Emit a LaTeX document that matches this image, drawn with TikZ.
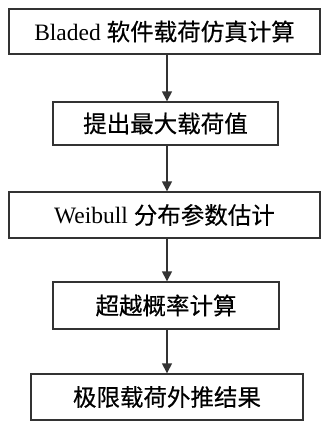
\documentclass[tikz,border=0pt]{standalone}
\usepackage{fontspec}
\setmainfont{Liberation Serif}
\newfontfamily\cjk[FakeBold=0.4]{Noto Sans CJK SC}
\usetikzlibrary{arrows.meta}
\definecolor{lc}{HTML}{333333}
\tikzset{
  box/.style={draw=lc, line width=1.4pt, inner sep=0pt, font=\fontsize{23.5}{25}\selectfont, text=black},
  arr/.style={draw=lc, line width=1.4pt, -{Triangle[width=10pt,length=10pt]}}
}
\begin{document}
\begin{tikzpicture}[x=1pt,y=-1pt]
\useasboundingbox (0,0) rectangle (321,421);
\fill[white] (0,0) rectangle (321,421);
\node[box, minimum width=311pt, minimum height=45pt] (b1) at (164.5,31.5) {Bladed {\cjk 软件载荷仿真计算}};
\node[box, minimum width=225pt, minimum height=43pt] (b2) at (165.5,123.5) {\cjk 提出最大载荷值};
\node[box, minimum width=311pt, minimum height=46pt] (b3) at (164.5,215) {Weibull {\cjk 分布参数估计}};
\node[box, minimum width=226pt, minimum height=47pt] (b4) at (166,305.5) {\cjk 超越概率计算};
\node[box, minimum width=272pt, minimum height=46pt] (b5) at (167,397) {\cjk 极限载荷外推结果};
\coordinate (ax) at (167,0);
\draw[arr] (b1.south -| ax) -- (b2.north -| ax);
\draw[arr] (b2.south -| ax) -- (b3.north -| ax);
\draw[arr] (b3.south -| ax) -- (b4.north -| ax);
\draw[arr] (b4.south -| ax) -- (b5.north -| ax);
\end{tikzpicture}
\end{document}
